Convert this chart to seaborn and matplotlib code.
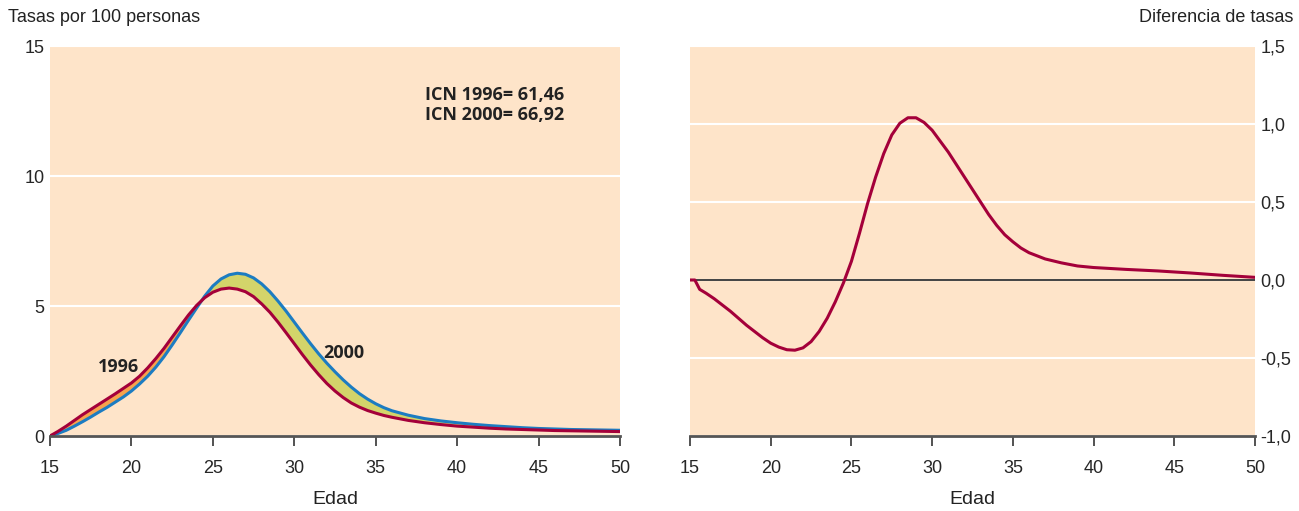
import numpy as np
import pandas as pd
import matplotlib
matplotlib.use("Agg")
import matplotlib.pyplot as plt
from matplotlib.ticker import FuncFormatter
import seaborn as sns

# Datos (tasas por 100 personas)
edades = [15, 15.5, 16, 16.5, 17, 17.5, 18, 18.5, 19, 19.5, 20, 20.5, 21, 21.5, 22, 22.5,
          23, 23.5, 24, 24.5, 25, 25.5, 26, 26.5, 27, 27.5, 28, 28.5, 29, 29.5, 30, 30.5,
          31, 31.5, 32, 32.5, 33, 33.5, 34, 34.5, 35, 35.5, 36, 37, 38, 39, 40, 41, 42,
          43, 44, 45, 46, 47, 48, 49, 50]
tasas_1996 = [0.0, 0.18, 0.38, 0.6, 0.82, 1.02, 1.22, 1.42, 1.62, 1.83, 2.04, 2.3, 2.62,
              2.98, 3.37, 3.8, 4.23, 4.65, 5.02, 5.32, 5.53, 5.65, 5.69, 5.65, 5.55, 5.36,
              5.08, 4.76, 4.38, 3.97, 3.55, 3.13, 2.73, 2.36, 2.02, 1.73, 1.48, 1.27, 1.11,
              0.98, 0.88, 0.79, 0.72, 0.6, 0.51, 0.44, 0.38, 0.34, 0.3, 0.27, 0.25, 0.23,
              0.21, 0.2, 0.19, 0.18, 0.17]
tasas_2000 = [0.0, 0.1, 0.22, 0.38, 0.55, 0.73, 0.92, 1.1, 1.3, 1.5, 1.73, 2.0, 2.3, 2.65,
              3.05, 3.5, 3.97, 4.45, 4.92, 5.38, 5.77, 6.04, 6.2, 6.26, 6.22, 6.08, 5.85,
              5.55, 5.19, 4.8, 4.38, 3.96, 3.55, 3.16, 2.8, 2.47, 2.16, 1.88, 1.63, 1.42,
              1.24, 1.09, 0.97, 0.8, 0.67, 0.58, 0.51, 0.45, 0.4, 0.36, 0.32, 0.29, 0.27,
              0.25, 0.24, 0.23, 0.22]

# Diferencia de tasas (2000 - 1996)
edades_dif = [15, 15.3, 15.6, 16, 16.5, 17, 17.5, 18, 18.5, 19, 19.5, 20, 20.5, 21, 21.5,
              22, 22.5, 23, 23.5, 24, 24.5, 25, 25.5, 26, 26.5, 27, 27.5, 28, 28.5, 29,
              29.5, 30, 30.5, 31, 31.5, 32, 32.5, 33, 33.5, 34, 34.5, 35, 35.5, 36, 37, 38,
              39, 40, 42, 44, 46, 48, 50]
diferencia = [0.0, 0.0, -0.06, -0.085, -0.12, -0.16, -0.2, -0.245, -0.29, -0.33, -0.37,
              -0.405, -0.43, -0.447, -0.45, -0.435, -0.395, -0.33, -0.245, -0.14, -0.02,
              0.12, 0.3, 0.49, 0.66, 0.81, 0.93, 1.005, 1.04, 1.04, 1.01, 0.96, 0.89, 0.82,
              0.74, 0.66, 0.58, 0.5, 0.42, 0.35, 0.29, 0.245, 0.205, 0.175, 0.135, 0.11,
              0.09, 0.08, 0.068, 0.058, 0.045, 0.03, 0.017]

icn_texto = ["ICN 1996= 61,46", "ICN 2000= 66,92"]

df = pd.DataFrame({"Edad": edades, "1996": tasas_1996, "2000": tasas_2000})
df_dif = pd.DataFrame({"Edad": edades_dif, "Diferencia": diferencia})

fondo = "#fee4c9"
rojo = "#a4003a"
azul = "#1c7cc2"

sns.set_style("white", {"axes.facecolor": fondo})
plt.rcParams["font.family"] = ["Liberation Sans Narrow", "Liberation Sans", "DejaVu Sans"]

fig = plt.figure(figsize=(12.99, 5.11), dpi=100)
ax1 = fig.add_axes([50 / 1299, 75 / 511, 570 / 1299, 390 / 511])
ax2 = fig.add_axes([690 / 1299, 75 / 511, 565 / 1299, 390 / 511])

coma = FuncFormatter(lambda v, p: f"{v:.1f}".replace(".", ","))

# --- panel izquierdo ---
x = np.array(edades)
y96 = np.array(tasas_1996)
y00 = np.array(tasas_2000)
ax1.fill_between(x, y96, y00, where=y96 >= y00, interpolate=True, color="#f6a24c", lw=0)
ax1.fill_between(x, y96, y00, where=y00 >= y96, interpolate=True, color="#d3d46a", lw=0)
sns.lineplot(data=df, x="Edad", y="2000", ax=ax1, color=azul, lw=2.2)
sns.lineplot(data=df, x="Edad", y="1996", ax=ax1, color=rojo, lw=2.2)

ax1.set_xlim(15, 50)
ax1.set_ylim(0, 15)
ax1.set_yticks([0, 5, 10, 15])
ax1.set_xticks(range(15, 51, 5))

negrita = dict(fontsize=13, fontweight="bold", family=["Open Sans"], color="#222222")
ax1.text(19.2, 2.65, "1996", ha="center", va="center", **negrita)
ax1.text(31.8, 3.2, "2000", ha="left", va="center", **negrita)
ax1.text(38.0, 13.1, icn_texto[0], ha="left", va="center", **negrita)
ax1.text(38.0, 12.35, icn_texto[1], ha="left", va="center", **negrita)

# --- panel derecho ---
sns.lineplot(data=df_dif, x="Edad", y="Diferencia", ax=ax2, color=rojo, lw=2.2, zorder=3)
ax2.axhline(0, color="#222222", lw=1.2, zorder=2)
ax2.set_xlim(15, 50)
ax2.set_ylim(-1.0, 1.5)
ax2.set_yticks([-1.0, -0.5, 0.0, 0.5, 1.0, 1.5])
ax2.set_xticks(range(15, 51, 5))
ax2.yaxis.set_major_formatter(coma)
ax2.yaxis.tick_right()

for ax in (ax1, ax2):
    ax.grid(axis="y", color="white", lw=1.5)
    ax.set_axisbelow(True)
    for s in ("top", "left", "right"):
        ax.spines[s].set_visible(False)
    ax.spines["bottom"].set_color("#555555")
    ax.spines["bottom"].set_linewidth(2.0)
    ax.tick_params(axis="x", direction="out", length=7, width=1.3, color="#444444",
                   labelsize=13, pad=10, bottom=True)
    ax.tick_params(axis="y", length=0, labelsize=13, pad=4)
    ax.set_xlabel("Edad", fontsize=14, labelpad=10, color="#222222")
    ax.set_ylabel("")

fig.text(8 / 1299, 1 - 18 / 511, "Tasas por 100 personas", fontsize=13, ha="left", va="center",
         color="#222222")
fig.text(1293 / 1299, 1 - 18 / 511, "Diferencia de tasas", fontsize=13, ha="right", va="center",
         color="#222222")

fig.savefig("out.png", dpi=100)
